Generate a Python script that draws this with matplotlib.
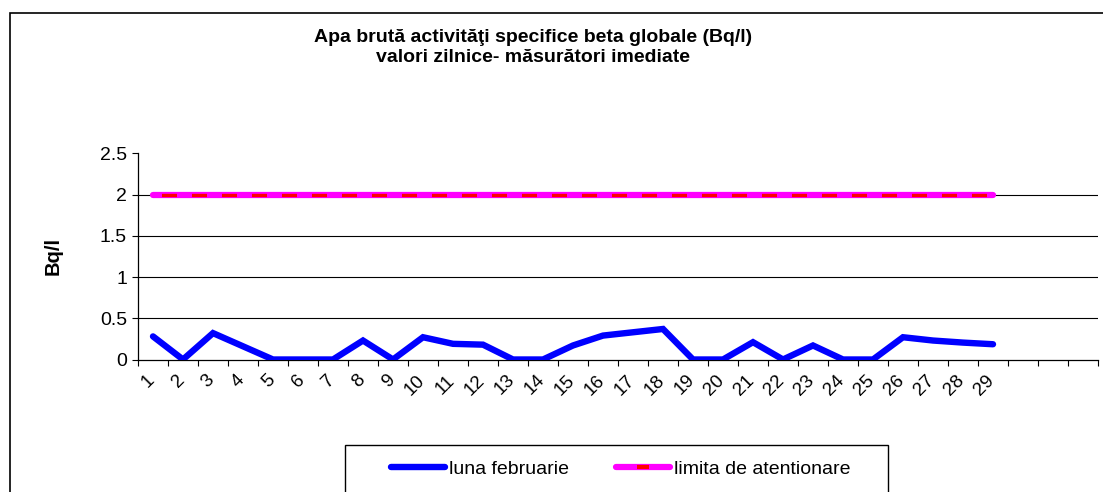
import matplotlib
matplotlib.use("Agg")
import matplotlib.pyplot as plt
import matplotlib.transforms as mtransforms
from matplotlib.lines import Line2D
from matplotlib.patches import Rectangle

plt.rcParams['font.family'] = ['Liberation Sans', 'DejaVu Sans']
plt.rcParams['lines.scale_dashes'] = False

# date
zile = [str(i) for i in range(1, 30)]
n_categorii = 32  # axa are 32 de pozitii, doar 1..29 etichetate
beta_feb = [0.28, 0.0, 0.32, 0.16, 0.0, 0.0, 0.0, 0.23, 0.0, 0.27,
            0.19, 0.18, 0.0, 0.0, 0.17, 0.29, 0.33, 0.37, 0.0, 0.0,
            0.21, 0.0, 0.17, 0.0, 0.0, 0.27, 0.23, 0.205, 0.185]
limita = [2.0] * 29
y_ticks = [0, 0.5, 1, 1.5, 2, 2.5]
y_labels = ['0', '0.5', '1', '1.5', '2', '2.5']

W, H = 1103, 492
fig = plt.figure(figsize=(W / 100, H / 100), dpi=100)
ax = fig.add_axes([138 / W, 1 - 359.5 / H, (1098 - 138) / W, (359.5 - 153.3) / H])

x = list(range(len(zile)))

# linie limita: magenta groasa + rosu intrerupt deasupra
ax.plot(x, limita, color='#FF00FF', lw=4.5, solid_capstyle='round', zorder=3)
ax.plot(x, limita, color='#FF0000', lw=2.4,
        linestyle=(15.5, (10.8, 10.8)), dash_capstyle='butt', zorder=4)
ax.plot(x, beta_feb, color='#0000FF', lw=4.6, solid_capstyle='round',
        solid_joinstyle='miter', zorder=5)

ax.set_xlim(-0.5, n_categorii - 0.5)
ax.set_ylim(0, 2.5)
ax.set_yticks(y_ticks)
ax.set_yticklabels(y_labels, fontsize=14)
for v in y_ticks[1:-1]:
    ax.axhline(v, color='#000000', lw=0.8, zorder=1)

ax.set_xticks(x)
ax.set_xticklabels(zile, rotation=45, ha='right', va='top', fontsize=13.5)
ax.set_xticks([i - 0.5 for i in range(n_categorii + 1)], minor=True)
ax.tick_params(axis='x', which='major', length=0, pad=8)
ax.tick_params(axis='x', which='minor', length=4, width=0.8, color='#000000')
ax.tick_params(axis='y', length=4, width=0.8, pad=4)
deplasare = mtransforms.ScaledTranslation(5 / 100, -1 / 100, fig.dpi_scale_trans)
for lbl in ax.get_xticklabels():
    lbl.set_transform(lbl.get_transform() + deplasare)

for s in ['top', 'right']:
    ax.spines[s].set_visible(False)
for s in ['left', 'bottom']:
    ax.spines[s].set_linewidth(0.9)
    ax.spines[s].set_color('#000000')

ax.set_ylabel('Bq/l', fontsize=14.5, fontweight='bold')
ax.yaxis.set_label_coords(-(138 - 63) / (1098 - 138), 0.5)

fig.text(533 / W, 1 - 37 / H, 'Apa brută activităţi specifice beta globale (Bq/l)',
         ha='center', va='center', fontsize=14, fontweight='bold')
fig.text(533 / W, 1 - 57 / H, 'valori zilnice- măsurători imediate',
         ha='center', va='center', fontsize=14, fontweight='bold')

# chenarul exterior si chenarul legendei
fig.add_artist(Rectangle((9.5 / W, -0.2), 1.2, 1 - 12.7 / H + 0.2,
                         transform=fig.transFigure, fill=False,
                         edgecolor='#000000', lw=1.2))
fig.add_artist(Rectangle((345 / W, -0.2), (888 - 345) / W, 1 - 445 / H + 0.2,
                         transform=fig.transFigure, fill=False,
                         edgecolor='#000000', lw=1.0))

h_blue = Line2D([], [], color='#0000FF', lw=4.6, solid_capstyle='round')
h_lim = Line2D([], [], color='#FF00FF', lw=4.5, solid_capstyle='round',
               marker='_', markersize=9, markeredgewidth=3, markeredgecolor='#FF0000')
fig.legend([h_blue, h_lim], ['luna februarie', 'limita de atentionare'],
           loc='center', bbox_to_anchor=(620.5 / W, 1 - 469 / H), ncol=2,
           frameon=False, fontsize=14, handlelength=2.8, handletextpad=0.2,
           columnspacing=2.4, numpoints=1, borderpad=0)

fig.savefig('out.png', dpi=100)
